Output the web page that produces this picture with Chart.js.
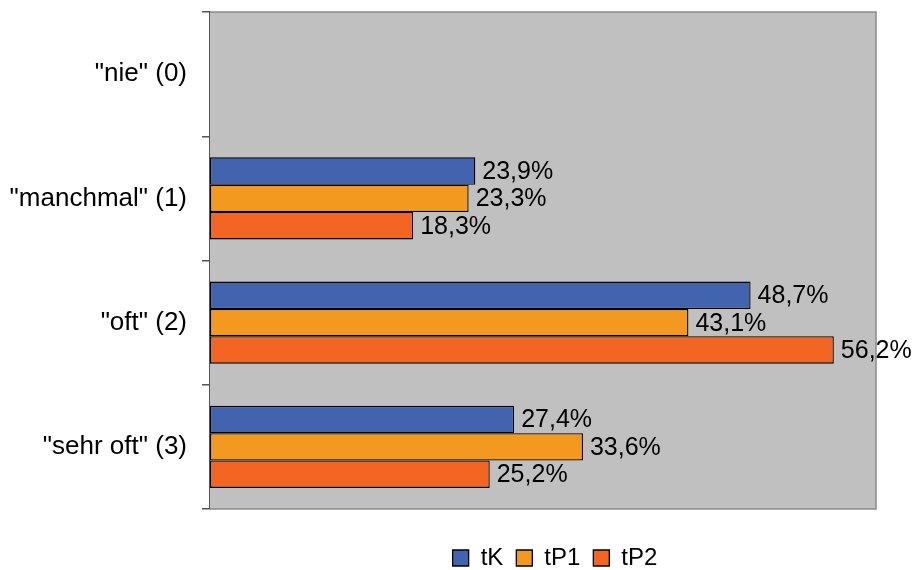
<!DOCTYPE html>
<html>
<head>
<meta charset="utf-8">
<script src="https://cdn.jsdelivr.net/npm/chart.js@4/dist/chart.umd.min.js"></script>
<style>
  html, body { margin: 0; padding: 0; background: #fff; }
  #wrap { width: 916px; height: 570px; position: relative; }
</style>
</head>
<body>
<div id="wrap"><canvas id="chart"></canvas></div>
<script>
// Kategorien und Anteile (%) je Messzeitpunkt
const categories = ['"nie" (0)', '"manchmal" (1)', '"oft" (2)', '"sehr oft" (3)'];
const seriesNames = ['tK', 'tP1', 'tP2'];
const tK  = [null, 23.9, 48.7, 27.4];
const tP1 = [null, 23.3, 43.1, 33.6];
const tP2 = [null, 18.3, 56.2, 25.2];
const axisMax = 60;

const colors = ['#4263ae', '#f4991f', '#f26522'];

Chart.defaults.font.family = "'Liberation Sans', Arial, sans-serif";
Chart.defaults.font.size = 25;
Chart.defaults.color = '#000';

// grauer Plotbereich mit Rahmen
const plotArea = {
  id: 'plotArea',
  afterLayout(chart) {
    // Legende etwas nach rechts wie im Original
    chart.legend.left += 12;
    chart.legend.right += 12;
  },
  beforeDatasetsDraw(chart) {
    const { ctx, chartArea: a } = chart;
    ctx.save();
    ctx.fillStyle = '#c0c0c0';
    ctx.fillRect(a.left, a.top, a.right - a.left, a.bottom - a.top);
    ctx.strokeStyle = '#8a8a8a';
    ctx.lineWidth = 1.5;
    ctx.beginPath();
    ctx.moveTo(a.left, a.top);
    ctx.lineTo(a.right, a.top);
    ctx.lineTo(a.right, a.bottom);
    ctx.lineTo(a.left, a.bottom);
    ctx.stroke();
    ctx.restore();
  }
};

// Werte rechts neben den Balken
const valueLabels = {
  id: 'valueLabels',
  afterDatasetsDraw(chart) {
    const ctx = chart.ctx;
    ctx.save();
    ctx.font = "25px 'Liberation Sans', Arial, sans-serif";
    ctx.fillStyle = '#000';
    ctx.textBaseline = 'middle';
    ctx.textAlign = 'left';
    chart.data.datasets.forEach((ds, i) => {
      chart.getDatasetMeta(i).data.forEach((bar, j) => {
        const v = ds.data[j];
        if (v == null) return;
        ctx.fillText(v.toFixed(1).replace('.', ',') + '%', bar.x + 7, bar.y + 1);
      });
    });
    ctx.restore();
  }
};

new Chart(document.getElementById('chart'), {
  type: 'bar',
  data: {
    labels: categories,
    datasets: [tK, tP1, tP2].map((d, i) => ({
      label: seriesNames[i],
      data: d,
      backgroundColor: colors[i],
      borderColor: '#000',
      borderWidth: 1.3,
      borderSkipped: false,
      barPercentage: 1,
      categoryPercentage: 0.66
    }))
  },
  options: {
    indexAxis: 'y',
    responsive: true,
    maintainAspectRatio: false,
    animation: false,
    layout: { padding: { top: 12, right: 40, left: 0, bottom: -10 } },
    scales: {
      x: {
        min: 0, max: axisMax,
        afterFit: s => { s.height = 24; },
        grid: { display: false },
        border: { display: false },
        ticks: { display: false }
      },
      y: {
        afterFit: s => { s.width = 210; s.paddingTop = 0; s.paddingBottom = 0; },
        border: { color: '#555', width: 1.5 },
        grid: { drawOnChartArea: false, tickLength: 8, color: '#555', lineWidth: 1.5, offset: true },
        ticks: { padding: 15, color: '#000', font: { size: 26 } }
      }
    },
    plugins: {
      legend: {
        position: 'bottom',
        fullSize: false,
        labels: { boxWidth: 16, boxHeight: 16, padding: 13, color: '#000', font: { size: 24 } }
      },
      tooltip: { enabled: false }
    }
  },
  plugins: [plotArea, valueLabels]
});
</script>
</body>
</html>
